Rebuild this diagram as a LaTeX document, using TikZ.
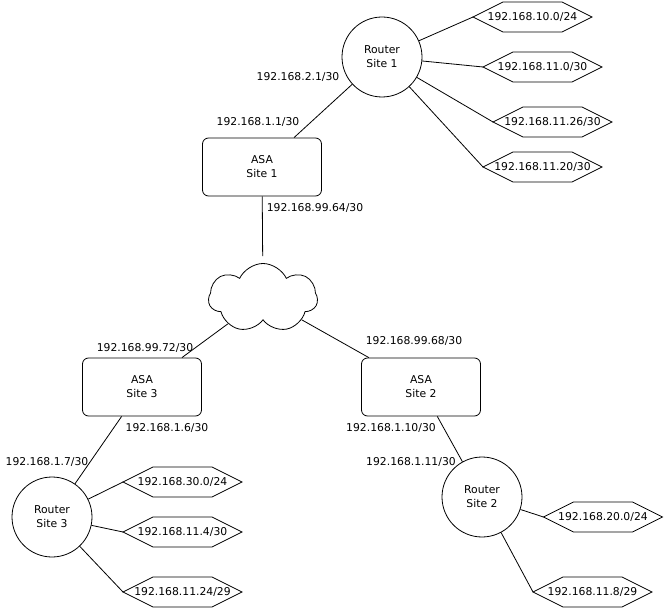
\documentclass[tikz,border=0pt]{standalone}
\usepackage{fontspec}
\setmainfont{DejaVu Sans}
\usetikzlibrary{shapes.symbols,calc}
\newcommand{\hexnode}[3]{%
  \node[hexbox] (#1) at (#2) {#3};
  \draw[lnk] ($(#1.north west)+(30,0)$) -- ($(#1.north east)+(-30,0)$) -- (#1.east)
    -- ($(#1.south east)+(-30,0)$) -- ($(#1.south west)+(30,0)$) -- (#1.west) -- cycle;}
\begin{document}
\begin{tikzpicture}[x=1pt,y=-1pt,
  every node/.style={font=\fontsize{10.8}{14}\selectfont, text=black},
  lnk/.style={draw=black, line width=0.8pt},
  router/.style={circle, lnk, minimum size=80pt, inner sep=0pt, align=center},
  asa/.style={rectangle, rounded corners=6pt, lnk, minimum width=119pt, minimum height=58pt, inner sep=0pt, align=center},
  hexbox/.style={rectangle, draw=none, minimum width=119pt, minimum height=30pt, inner sep=0pt, outer sep=0pt},
  cloudnode/.style={cloud, cloud puffs=7, cloud puff arc=130, aspect=1.6, lnk, minimum width=109pt, minimum height=69pt, inner sep=0pt},
  lbl/.style={inner sep=0pt}]
\useasboundingbox (0,0) rectangle (664,609);

% nodes
\node[router] (r1) at (382,57) {Router\\Site 1};
\node[asa] (a1) at (262,167) {ASA\\Site 1};
\node[cloudnode] (net) at (263,298) {};
\node[asa] (a3) at (142,387) {ASA\\Site 3};
\node[asa] (a2) at (421,387) {ASA\\Site 2};
\node[router] (r3) at (52,517) {Router\\Site 3};
\node[router] (r2) at (482,497) {Router\\Site 2};

\hexnode{h1}{532.5,17}{192.168.10.0/24}
\hexnode{h2}{542.5,67}{192.168.11.0/30}
\hexnode{h3}{552.5,122}{192.168.11.26/30}
\hexnode{h4}{542.5,167}{192.168.11.20/30}
\hexnode{h5}{182.5,482}{192.168.30.0/24}
\hexnode{h6}{182.5,532}{192.168.11.4/30}
\hexnode{h7}{182.5,592}{192.168.11.24/29}
\hexnode{h8}{603,517}{192.168.20.0/24}
\hexnode{h9}{592.5,592}{192.168.11.8/29}

% labels
\node[lbl] (l1) at (298,77) {192.168.2.1/30};
\node[lbl] (l2) at (258,122) {192.168.1.1/30};
\node[lbl] (l3) at (315,208) {192.168.99.64/30};
\node[lbl] (l4) at (145,348) {192.168.99.72/30};
\node[lbl] (l5) at (414,341) {192.168.99.68/30};
\node[lbl] (l6) at (167,428) {192.168.1.6/30};
\node[lbl] (l7) at (47,462) {192.168.1.7/30};
\node[lbl] (l8) at (391,428) {192.168.1.10/30};
\node[lbl] (l9) at (411,462) {192.168.1.11/30};

% connectors
\draw[lnk] (r1) -- (a1);
\draw[lnk, shorten >=7pt] (a1) -- (net);
\draw[lnk] (net) -- (a3);
\draw[lnk] (net) -- (a2);
\draw[lnk] (a3) -- (r3);
\draw[lnk] (a2) -- (r2);
\foreach \h in {h1,h2,h3,h4} \draw[lnk] (r1) -- (\h.west);
\foreach \h in {h5,h6,h7} \draw[lnk] (r3) -- (\h.west);
\foreach \h in {h8,h9} \draw[lnk] (r2) -- (\h.west);
\end{tikzpicture}
\end{document}
